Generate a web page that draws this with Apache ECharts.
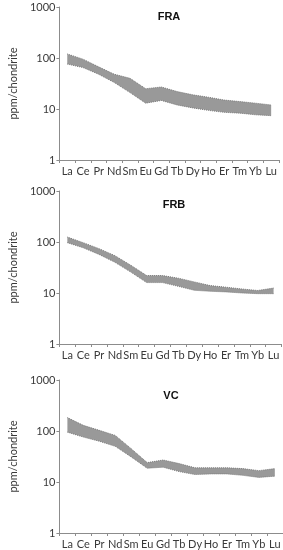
<!DOCTYPE html>
<html><head><meta charset="utf-8">
<script src="https://cdn.jsdelivr.net/npm/echarts@6/dist/echarts.min.js"></script>
<style>html,body{margin:0;padding:0;background:#fff}#c{width:283px;height:550px}</style>
</head><body><div id="c"></div>
<script>
const categories = ['La','Ce','Pr','Nd','Sm','Eu','Gd','Tb','Dy','Ho','Er','Tm','Yb','Lu'];
const yTicks = [1, 10, 100, 1000];
const panelTitles = ['FRA', 'FRB', 'VC'];

const fraUpper = [120, 95, 67, 48, 40, 25, 27, 22, 19, 17, 15, 14, 13, 12];
const fraLower = [76, 65, 48, 33, 21, 13, 14.7, 12, 10.5, 9.4, 8.6, 8.3, 7.7, 7.4];

const frbUpper = [125, 97, 74, 54, 35, 22, 22, 19.5, 16.5, 14, 13, 12, 11.2, 12.5];
const frbLower = [97, 77, 57, 40, 25.7, 16, 16, 13.5, 11.3, 10.8, 10.5, 10, 9.7, 9.7];

const vcUpper = [183, 129, 103, 82, 45, 24, 27, 23, 19, 19, 19, 18.3, 16.7, 18.3];
const vcLower = [95, 76, 63, 50, 31, 18.6, 19.5, 16, 14, 14.4, 14.4, 13.5, 12.3, 13];

const panels = [
  {title: panelTitles[0], upper: fraUpper, lower: fraLower},
  {title: panelTitles[1], upper: frbUpper, lower: frbLower},
  {title: panelTitles[2], upper: vcUpper, lower: vcLower}
];
const gridBoxes = [
  {left: 42, top: 7, width: 237, height: 153},
  {left: 42.5, top: 191, width: 239, height: 153},
  {left: 44, top: 380, width: 239, height: 153}
];
const titlePos = [{x: 164, y: 12}, {x: 169, y: 200}, {x: 166, y: 391}];

const font = 'Lato, "Open Sans", sans-serif';
const axisColor = '#8c8c8c';
const textColor = '#3a3a3a';
const edgeColor = '#7a7a7a';

function bandSeries(p, i) {
  return {
    type: 'custom', xAxisIndex: i, yAxisIndex: i, silent: true,
    data: [0],
    renderItem: function (params, api) {
      const pts = [];
      for (let k = 0; k < categories.length; k++) pts.push(api.coord([k, p.upper[k]]));
      for (let k = categories.length - 1; k >= 0; k--) pts.push(api.coord([k, p.lower[k]]));
      return {type: 'polygon', shape: {points: pts}, style: {fill: '#999999', stroke: 'none'}};
    },
    z: 2
  };
}
function edgeSeries(data, i) {
  return {
    type: 'line', xAxisIndex: i, yAxisIndex: i, data: data,
    showSymbol: false, symbol: 'none', z: 3,
    lineStyle: {color: edgeColor, width: 1, type: 'dotted'}
  };
}

const option = {
  animation: false,
  backgroundColor: '#fff',
  title: panels.map((p, i) => ({
    text: p.title, left: titlePos[i].x, top: titlePos[i].y, textAlign: 'center', textVerticalAlign: 'middle',
    textStyle: {fontFamily: 'Liberation Sans, Arial, sans-serif', fontWeight: 'bold', fontSize: 11, color: '#111'}
  })),
  grid: gridBoxes.map(g => Object.assign({containLabel: false}, g)),
  xAxis: panels.map((p, i) => ({
    type: 'category', gridIndex: i, data: categories, boundaryGap: true,
    axisLine: {lineStyle: {color: axisColor, width: 1}},
    axisTick: {show: true, length: 3, lineStyle: {color: axisColor}},
    axisLabel: {color: textColor, fontSize: 11, fontFamily: font, margin: 6, interval: 0}
  })),
  yAxis: panels.map((p, i) => ({
    type: 'log', logBase: 10, gridIndex: i, min: yTicks[0], max: yTicks[yTicks.length - 1],
    name: 'ppm/chondrite', nameLocation: 'middle', nameGap: 29, nameRotate: 90,
    nameTextStyle: {color: textColor, fontSize: 11, fontFamily: font},
    splitLine: {show: false},
    axisLine: {show: true, lineStyle: {color: axisColor, width: 1}},
    axisTick: {show: true, length: 3, lineStyle: {color: axisColor}},
    axisLabel: {color: textColor, fontSize: 11, fontFamily: font, margin: 4,
      formatter: v => yTicks.indexOf(Math.round(v)) >= 0 ? String(Math.round(v)) : ''}
  })),
  series: panels.flatMap((p, i) => [bandSeries(p, i), edgeSeries(p.upper, i), edgeSeries(p.lower, i)])
};
const chart = echarts.init(document.getElementById('c'), null, {renderer: 'canvas'});
chart.setOption(option);
</script></body></html>
